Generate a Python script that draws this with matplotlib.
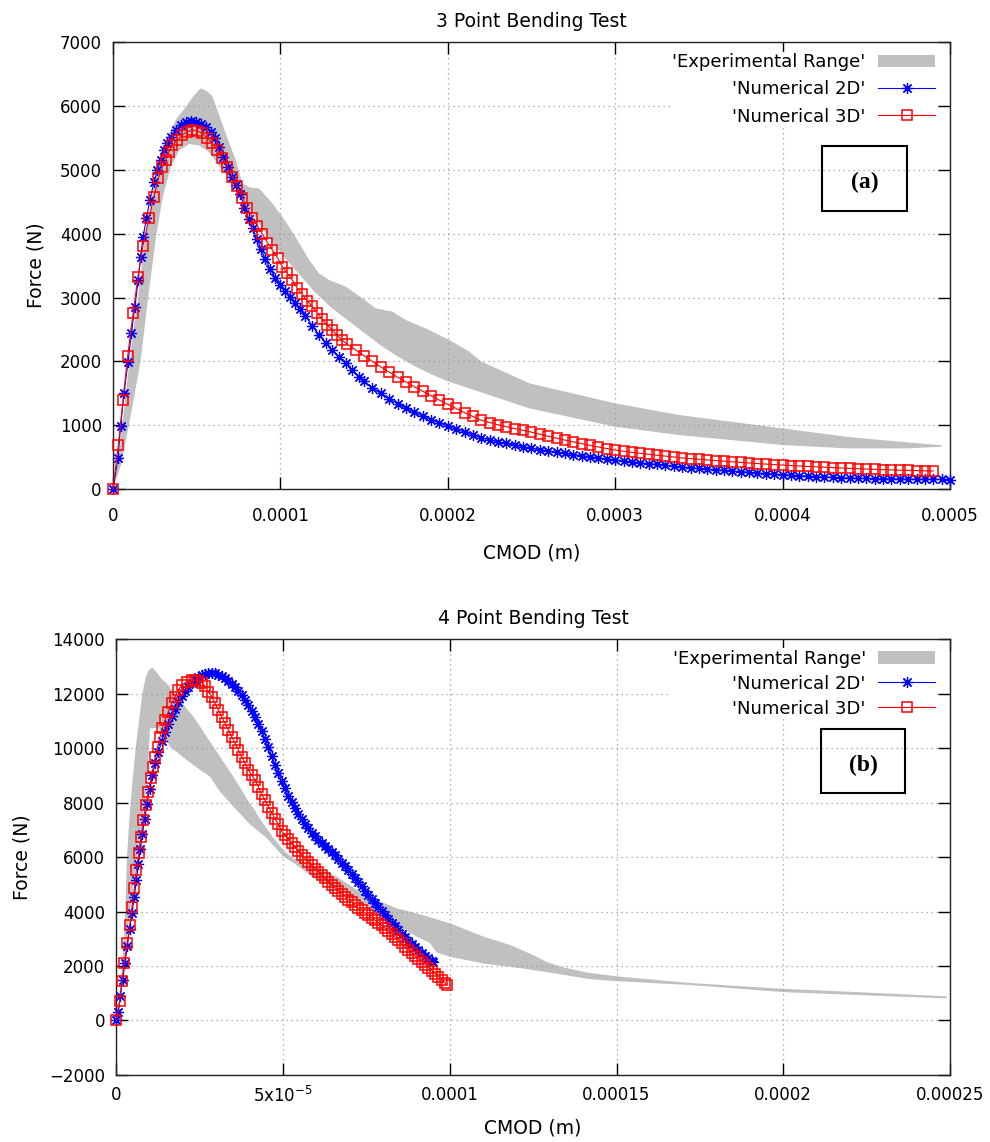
import numpy as np
import matplotlib
matplotlib.use("Agg")
import matplotlib.pyplot as plt
from matplotlib.patches import Rectangle, Patch
from matplotlib.lines import Line2D

# ---------------- (a) 3 point bending ----------------
# CMOD values in units of 1e-4 m, force in N
exp_a_up_x = [0, 0.03, 0.06, 0.09, 0.12, 0.15, 0.195, 0.23, 0.265, 0.325, 0.38, 0.435, 0.48,
              0.524, 0.56, 0.594, 0.624, 0.674, 0.734, 0.773, 0.82, 0.873, 0.952, 1.012, 1.09,
              1.172, 1.231, 1.291, 1.391, 1.49, 1.57, 1.669, 1.749, 1.889, 2.009, 2.128, 2.2,
              2.487, 3.0, 3.383, 4.0, 4.379, 4.7, 4.95]
exp_a_up_f = [0, 400, 1100, 1800, 2450, 3000, 4000, 4550, 5000, 5500, 5800, 5978, 6150,
              6271, 6230, 6150, 5927, 5563, 5145, 4786, 4720, 4708, 4473, 4264, 3951,
              3587, 3378, 3274, 3170, 2987, 2831, 2779, 2649, 2492, 2336, 2154, 2000,
              1658, 1345, 1162, 954, 823, 745, 690]
exp_a_lo_x = [0, 0.05, 0.095, 0.165, 0.21, 0.26, 0.30, 0.345, 0.395, 0.455, 0.514, 0.574,
              0.65, 0.7, 0.8, 0.9, 1.0, 1.1, 1.2, 1.3, 1.4, 1.5, 1.6, 1.7, 1.8, 1.9, 2.0,
              2.188, 2.487, 3.0, 3.383, 4.0, 4.379, 4.75, 4.95]
exp_a_lo_f = [0, 400, 1000, 2000, 3000, 4000, 4600, 5040, 5300, 5400, 5380, 5275,
              5000, 4850, 4450, 4050, 3700, 3400, 3100, 2850, 2650, 2450, 2250, 2080, 1930,
              1800, 1690, 1527, 1267, 979, 849, 693, 641, 641, 667]

num2d_a_x = [0, 0.03, 0.046, 0.066, 0.09, 0.11, 0.131, 0.151, 0.165, 0.18, 0.2, 0.22, 0.245,
             0.265, 0.285, 0.305, 0.325, 0.345, 0.375, 0.405, 0.435, 0.465, 0.495, 0.524,
             0.554, 0.584, 0.61, 0.635, 0.66, 0.685, 0.71, 0.735, 0.76, 0.785, 0.81, 0.835,
             0.86, 0.885, 0.91, 0.94, 0.97, 1.0, 1.03, 1.06, 1.09, 1.12, 1.15, 1.19, 1.23,
             1.27, 1.31, 1.35, 1.39, 1.43, 1.47, 1.5, 1.55, 1.6, 1.65, 1.7, 1.75, 1.8, 1.85,
             1.9, 1.95, 2.0, 2.05, 2.1, 2.15, 2.2, 2.25, 2.3, 2.35, 2.4, 2.45, 2.5, 2.55,
             2.6, 2.65, 2.7, 2.75, 2.8, 2.85, 2.9, 2.95, 3.0, 3.05, 3.1, 3.15, 3.2, 3.25,
             3.3, 3.35, 3.4, 3.45, 3.5, 3.55, 3.6, 3.65, 3.7, 3.75, 3.8, 3.85, 3.9, 3.95,
             4.0, 4.05, 4.1, 4.15, 4.2, 4.25, 4.3, 4.35, 4.4, 4.45, 4.5, 4.55, 4.6, 4.65,
             4.7, 4.75, 4.8, 4.85, 4.9, 4.95, 5.0]
num2d_a_f = [0, 485, 995, 1501, 1996, 2440, 2856, 3274, 3638, 3950, 4238, 4525, 4800,
             4994, 5150, 5300, 5411, 5515, 5619, 5697, 5740, 5755, 5745, 5715,
             5665, 5590, 5489, 5359, 5203, 5046, 4890, 4760, 4620, 4400, 4230, 4080,
             3920, 3760, 3600, 3440, 3310, 3200, 3100, 3010, 2920, 2820, 2710, 2560, 2420,
             2290, 2180, 2075, 1970, 1865, 1760, 1690, 1590, 1500, 1420, 1340, 1270, 1205, 1145,
             1090, 1040, 990, 940, 895, 850, 805, 775, 745, 718, 690, 665, 640, 620,
             600, 581, 562, 544, 527, 509, 492, 475, 458, 444, 430, 416, 402, 389,
             376, 363, 350, 339, 328, 317, 307, 296, 286, 276, 266, 256, 247, 238,
             230, 222, 214, 207, 200, 194, 188, 183, 178, 174, 170, 167, 165, 163,
             161, 159, 158, 157, 156, 155, 154]

num3d_a_x = [0, 0.032, 0.060, 0.088, 0.120, 0.149, 0.179, 0.215, 0.245, 0.271, 0.295, 0.315,
             0.335, 0.355, 0.385, 0.414, 0.444, 0.474, 0.504, 0.534, 0.564, 0.594, 0.624,
             0.653, 0.683, 0.713, 0.743, 0.773, 0.803, 0.833, 0.863, 0.893, 0.923, 0.953,
             0.983, 1.012, 1.042, 1.072, 1.10, 1.13, 1.16, 1.19, 1.22, 1.25, 1.28, 1.31,
             1.34, 1.37, 1.40, 1.45, 1.50, 1.55, 1.60, 1.65, 1.70, 1.75, 1.80, 1.85, 1.90,
             1.95, 2.0, 2.05, 2.1, 2.15, 2.2, 2.25, 2.3, 2.35, 2.4, 2.45, 2.5, 2.55, 2.6,
             2.65, 2.7, 2.75, 2.8, 2.85, 2.9, 2.95, 3.0, 3.05, 3.1, 3.15, 3.2, 3.25, 3.3,
             3.35, 3.4, 3.45, 3.5, 3.55, 3.6, 3.65, 3.7, 3.75, 3.8, 3.85, 3.9, 3.95, 4.0,
             4.05, 4.1, 4.15, 4.2, 4.25, 4.3, 4.35, 4.4, 4.45, 4.5, 4.55, 4.6, 4.65, 4.7,
             4.75, 4.8, 4.85, 4.9]
num3d_a_f = [0, 693, 1397, 2085, 2753, 3316, 3810, 4238, 4577, 4864, 5046, 5150,
             5281, 5385, 5463, 5541, 5593, 5619, 5608, 5567, 5489, 5411, 5307,
             5177, 5046, 4890, 4740, 4560, 4400, 4250, 4120, 3990, 3860, 3740,
             3620, 3480, 3380, 3270, 3150, 3050, 2950, 2860, 2760, 2660, 2570, 2490,
             2410, 2330, 2270, 2180, 2090, 2000, 1915, 1835, 1755, 1680, 1605, 1535, 1465,
             1395, 1330, 1265, 1200, 1140, 1080, 1045, 1010, 980, 950, 922, 895, 862, 830,
             800, 770, 742, 715, 688, 662, 638, 615, 596, 578, 563, 548, 534, 520,
             506, 492, 481, 470, 460, 450, 440, 430, 421, 412, 403, 395, 387, 380,
             372, 365, 358, 352, 346, 340, 334, 328, 323, 318, 313, 309, 304, 300,
             296, 293, 289, 286]

# ---------------- (b) 4 point bending ----------------
# CMOD values in units of 1e-5 m, force in N
exp_b_up_x = [0, 0.08, 0.12, 0.18, 0.24, 0.28, 0.32, 0.38, 0.43, 0.5, 0.58, 0.68, 0.78, 0.88,
              0.98, 1.08, 1.2, 1.35, 1.51, 1.71, 1.91, 2.11, 2.31, 2.51, 2.71, 2.91, 3.11,
              3.31, 3.51, 3.71, 3.91, 4.11, 4.31, 4.51, 4.71, 5.01, 5.3, 5.61, 6.01, 6.61,
              7.21, 7.81, 8.41, 9.01, 9.51, 10.01, 11.01, 11.81, 12.1, 12.5, 12.9, 13.3,
              14.1, 15.0, 17.2, 20.0, 22.2, 24.9]
exp_b_up_f = [0, 600, 1200, 2200, 3200, 4500, 6000, 7200, 8000, 9000, 10000, 11000, 12000,
              12600, 12880, 12960, 12800, 12550, 12385, 12060, 11773, 11450, 11160, 10800,
              10425, 10050, 9690, 9320, 8955, 8560, 8150, 7800, 7400, 7050, 6700, 6250, 5950,
              5832, 5648, 5281, 4791, 4423, 4117, 3933, 3750, 3566, 3077, 2770, 2617, 2400,
              2150, 1980, 1760, 1620, 1375, 1160, 1040, 885]
exp_b_lo_x = [0, 0.1, 0.2, 0.3, 0.41, 0.51, 0.61, 0.74, 0.86, 0.93, 0.98, 1.01, 1.26, 1.61,
              2.11, 2.51, 2.81, 3.11, 3.51, 4.01, 4.51, 5.01, 5.3, 5.61, 6.01, 6.61, 7.21,
              7.81, 8.41, 9.01, 9.4, 9.6, 10.01, 11.01, 12.2, 12.9, 14.2, 15.0, 17.2, 20.0,
              22.2, 24.9]
exp_b_lo_f = [0, 700, 1800, 3000, 4000, 5000, 6000, 7000, 8000, 9000, 10000, 10720, 10750,
              10057, 9567, 9200, 8955, 8400, 7853, 7200, 6700, 6015, 5800, 5520, 5159, 4850,
              4400, 3950, 3500, 3075, 2850, 2500, 2336, 2090, 1905, 1776, 1517, 1440, 1300,
              1040, 933, 808]

num2d_b_x = [0, 0.06, 0.12, 0.19, 0.26, 0.33, 0.4, 0.47, 0.54, 0.6, 0.66, 0.72, 0.78, 0.85,
             0.92, 1.0, 1.08, 1.17, 1.26, 1.36, 1.46, 1.56, 1.66, 1.76, 1.86, 1.96, 2.06,
             2.16, 2.26, 2.36, 2.46, 2.56, 2.66, 2.76, 2.86, 2.96, 3.06, 3.16, 3.26, 3.36,
             3.46, 3.56, 3.66, 3.76, 3.86, 3.96, 4.06, 4.16, 4.26, 4.36, 4.46, 4.56, 4.66,
             4.76, 4.86, 4.96, 5.06, 5.16, 5.26, 5.36, 5.46, 5.56, 5.66, 5.76, 5.86, 5.96,
             6.06, 6.16, 6.26, 6.36, 6.46, 6.56, 6.66, 6.76, 6.86, 6.96, 7.06, 7.16, 7.26,
             7.36, 7.46, 7.56, 7.66, 7.76, 7.86, 7.96, 8.06, 8.16, 8.26, 8.36, 8.46, 8.56,
             8.66, 8.76, 8.86, 8.96, 9.06, 9.16, 9.26, 9.36, 9.46, 9.5]
num2d_b_f = [0, 300, 900, 1500, 2100, 2750, 3350, 3950, 4550, 5150, 5750, 6300, 6850, 7400,
             7950, 8500, 9000, 9450, 9850, 10250, 10600, 10900, 11200, 11450, 11700, 11900,
             12100, 12250, 12400, 12520, 12600, 12670, 12720, 12750, 12760, 12750, 12700,
             12640, 12560, 12460, 12360, 12240, 12100, 11950, 11780, 11590, 11380, 11150,
             10900, 10620, 10330, 10030, 9720, 9400, 9100, 8800, 8520, 8260, 8020, 7800,
             7600, 7410, 7230, 7060, 6900, 6760, 6630, 6510, 6400, 6290, 6180, 6060, 5940,
             5800, 5660, 5510, 5380, 5230, 5080, 4920, 4760, 4610, 4450, 4300, 4160, 4010,
             3870, 3730, 3590, 3450, 3310, 3180, 3050, 2930, 2810, 2700, 2590, 2480, 2380,
             2280, 2190, 2150]

num3d_b_x = [0, 0.1, 0.17, 0.24, 0.32, 0.4, 0.47, 0.54, 0.6, 0.67, 0.74, 0.81, 0.88, 0.96,
             1.04, 1.11, 1.17, 1.24, 1.31, 1.38, 1.46, 1.56, 1.66, 1.76, 1.86, 1.96, 2.11,
             2.26, 2.36, 2.46, 2.56, 2.66, 2.76, 2.86, 2.96, 3.06, 3.16, 3.26, 3.36, 3.46,
             3.56, 3.66, 3.76, 3.86, 3.96, 4.06, 4.16, 4.26, 4.36, 4.46, 4.56, 4.66, 4.76,
             4.86, 4.96, 5.06, 5.16, 5.26, 5.36, 5.46, 5.56, 5.66, 5.76, 5.86, 5.96, 6.06,
             6.16, 6.26, 6.36, 6.46, 6.56, 6.66, 6.76, 6.86, 6.96, 7.06, 7.16, 7.26, 7.36,
             7.46, 7.56, 7.66, 7.76, 7.86, 7.96, 8.06, 8.16, 8.26, 8.36, 8.46, 8.56, 8.66,
             8.76, 8.86, 8.96, 9.06, 9.16, 9.26, 9.36, 9.46, 9.56, 9.66, 9.76, 9.86, 9.91]
num3d_b_f = [0, 720, 1450, 2120, 2830, 3500, 4180, 4850, 5520, 6140, 6750, 7360, 7910, 8400,
             8890, 9320, 9690, 10060, 10420, 10730, 11040, 11340, 11650, 11890, 12140, 12320,
             12445, 12506, 12500, 12460, 12408, 12280, 12078, 11894, 11649, 11404, 11159,
             10914, 10669, 10424, 10179, 9935, 9690, 9445, 9200, 9016, 8833, 8588, 8300,
             8080, 7850, 7630, 7410, 7200, 6950, 6800, 6660, 6510, 6370, 6230, 6080, 5950,
             5820, 5700, 5580, 5460, 5340, 5220, 5100, 4980, 4870, 4760, 4660, 4550, 4440,
             4340, 4230, 4130, 4040, 3950, 3860, 3770, 3680, 3590, 3490, 3390, 3280, 3170,
             3060, 2950, 2830, 2710, 2590, 2470, 2360, 2260, 2150, 2050, 1940, 1830, 1720,
             1610, 1490, 1380, 1300]

xticks_a = [0, 0.0001, 0.0002, 0.0003, 0.0004, 0.0005]
xticklabels_a = ['0', '0.0001', '0.0002', '0.0003', '0.0004', '0.0005']
yticks_a = [0, 1000, 2000, 3000, 4000, 5000, 6000, 7000]
xticks_b = [0, 0.00005, 0.0001, 0.00015, 0.0002, 0.00025]
xticklabels_b = ['0', r'5x10$^{-5}$', '0.0001', '0.00015', '0.0002', '0.00025']
yticks_b = [-2000, 0, 2000, 4000, 6000, 8000, 10000, 12000, 14000]

labels = ["'Experimental Range'", "'Numerical 2D'", "'Numerical 3D'"]

GRAY = '#c0c0c0'
STAR = (8, 2, 0)

fig = plt.figure(figsize=(9.9, 11.42), dpi=100)
ax1 = fig.add_axes([0.1141, 0.5715, 0.8455, 0.3919])
ax2 = fig.add_axes([0.1175, 0.0588, 0.8421, 0.3814])


def draw(ax, ux, uf, lx, lf, x2, f2, x3, f3, scale):
    px = np.concatenate([np.array(ux), np.array(lx)[::-1]]) * scale
    pf = np.concatenate([np.array(uf), np.array(lf)[::-1]])
    ax.fill(px, pf, color=GRAY, lw=0, zorder=1)
    ax.plot(np.array(x2) * scale, f2, color='blue', lw=0.8, marker=STAR, ms=8, mew=0.9,
            zorder=3, clip_on=False)
    ax.plot(np.array(x3) * scale, f3, color='red', lw=0.8, marker='s', ms=6.5, mfc='none',
            mew=1.1, zorder=4, clip_on=False)


def style(ax, title, xt, xtl, yt, pad_x, xlpad, ylpad, lspace, anchor_y, tag, box):
    ax.set_xticks(xt)
    ax.set_xticklabels(xtl)
    ax.set_yticks(yt)
    ax.set_xlim(xt[0], xt[-1])
    ax.set_ylim(yt[0], yt[-1])
    ax.tick_params(direction='in', length=8.5, width=1.0, top=True, right=True,
                   labelsize=12, colors='black')
    ax.tick_params(axis='x', pad=pad_x)
    ax.tick_params(axis='y', pad=8)
    for s in ax.spines.values():
        s.set_linewidth(1.0)
        s.set_color('#222222')
    ax.grid(True, color='#9a9a9a', linestyle=(0, (1, 3)), linewidth=0.9)
    ax.set_title(title, fontsize=13.5, pad=11)
    ax.set_xlabel('CMOD (m)', fontsize=13.5, labelpad=xlpad)
    ax.set_ylabel('Force (N)', fontsize=13.5, labelpad=ylpad)
    handles = [Patch(facecolor=GRAY, edgecolor='none'),
               Line2D([], [], color='blue', lw=0.8, marker=STAR, ms=8, mew=0.9),
               Line2D([], [], color='red', lw=0.8, marker='s', ms=6.5, mfc='none', mew=1.1)]
    ax.legend(handles, labels, loc='upper right', bbox_to_anchor=(0.9845, anchor_y),
              borderaxespad=0, markerfirst=False, frameon=True, fancybox=False,
              framealpha=1, edgecolor='none', facecolor='white', borderpad=0.1,
              handlelength=3.15, handletextpad=0.7, labelspacing=lspace, fontsize=13)
    x0, y0, w, h = box
    ax.add_patch(Rectangle((x0, y0), w, h, transform=ax.transAxes, fill=False,
                           lw=1.5, ec='black', zorder=6))
    ax.text(x0 + w / 2, y0 + h / 2 - 0.01, tag, transform=ax.transAxes, ha='center',
            va='center', fontsize=17, fontweight='bold', family='Liberation Serif', zorder=7)


draw(ax1, exp_a_up_x, exp_a_up_f, exp_a_lo_x, exp_a_lo_f,
     num2d_a_x, num2d_a_f, num3d_a_x, num3d_a_f, 1e-4)
draw(ax2, exp_b_up_x, exp_b_up_f, exp_b_lo_x, exp_b_lo_f,
     num2d_b_x, num2d_b_f, num3d_b_x, num3d_b_f, 1e-5)

style(ax1, '3 Point Bending Test', xticks_a, xticklabels_a, yticks_a, 13, 13, 10, 0.5, 0.978,
      '(a)', (0.847, 0.622, 0.1016, 0.1453))
style(ax2, '4 Point Bending Test', xticks_b, xticklabels_b, yticks_b, 8, 9, 13, 0.38, 0.98,
      '(b)', (0.8453, 0.646, 0.1007, 0.148))

fig.savefig('out.png', dpi=100)
